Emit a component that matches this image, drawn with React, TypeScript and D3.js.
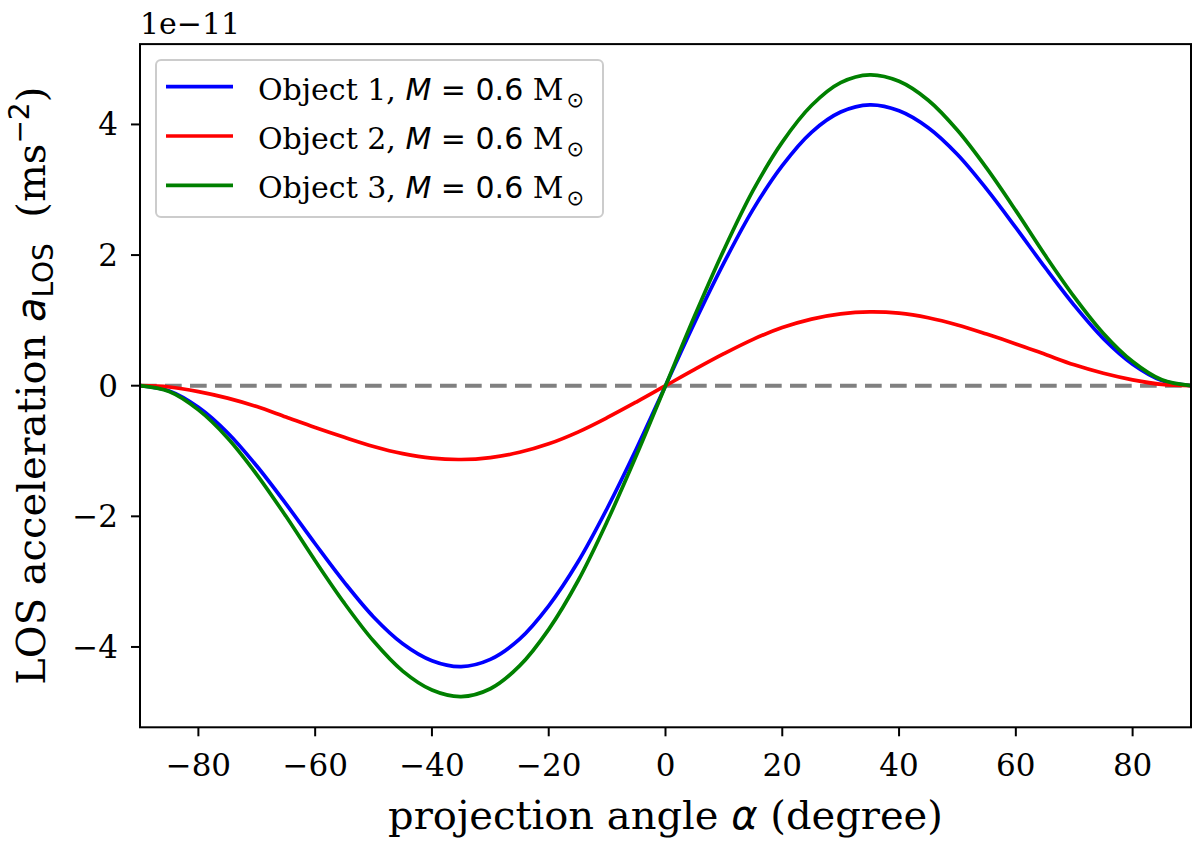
import React from "react";
import * as d3 from "d3";

const angles = [-90, -85, -80, -75, -70, -65, -60, -55, -50, -45, -40, -35, -30, -25, -20, -15, -10, -5, 0,
  5, 10, 15, 20, 25, 30, 35, 40, 45, 50, 55, 60, 65, 70, 75, 80, 85, 90];

const object1 = [0, -0.08, -0.33, -0.72, -1.23, -1.81, -2.42, -3.01, -3.54, -3.95, -4.21, -4.30, -4.19, -3.88, -3.37, -2.70, -1.88, -0.97, 0,
  0.97, 1.88, 2.70, 3.37, 3.88, 4.19, 4.30, 4.21, 3.95, 3.54, 3.01, 2.42, 1.81, 1.23, 0.72, 0.33, 0.08, 0];
const object2 = [0, -0.02, -0.09, -0.19, -0.32, -0.48, -0.64, -0.79, -0.93, -1.04, -1.11, -1.13, -1.10, -1.02, -0.89, -0.71, -0.49, -0.25, 0,
  0.25, 0.49, 0.71, 0.89, 1.02, 1.10, 1.13, 1.11, 1.04, 0.93, 0.79, 0.64, 0.48, 0.32, 0.19, 0.09, 0.02, 0];
const object3 = [0, -0.09, -0.37, -0.80, -1.36, -2.00, -2.68, -3.33, -3.91, -4.37, -4.66, -4.76, -4.64, -4.29, -3.73, -2.99, -2.08, -1.07, 0,
  1.07, 2.08, 2.99, 3.73, 4.29, 4.64, 4.76, 4.66, 4.37, 3.91, 3.33, 2.68, 2.00, 1.36, 0.80, 0.37, 0.09, 0];

const seriesNames = ["Object 1", "Object 2", "Object 3"];
const seriesColors = ["#0000ff", "#ff0000", "#008000"];
const seriesValues = [object1, object2, object3];

const xTicks = [-80, -60, -40, -20, 0, 20, 40, 60, 80];
const yTicks = [-4, -2, 0, 2, 4];
const xDomain = [-90, 90];
const yDomain = [-5.23, 5.23];

const SERIF = "'DejaVu Serif', serif";
const SANS = "'DejaVu Sans', sans-serif";

const fmt = (v: number) => (v < 0 ? "\u2212" + Math.abs(v) : String(v));

export default function App() {
  const W = 1200, H = 847;
  const L = 140, R = 1191, T = 44.1, B = 727.3;
  const x = d3.scaleLinear().domain(xDomain).range([L, R]);
  const y = d3.scaleLinear().domain(yDomain).range([B, T]);
  const line = d3
    .line<number>()
    .x((_, i) => x(angles[i]))
    .y((d) => y(d))
    .curve(d3.curveCatmullRom.alpha(0.5));

  const legendRowsY = [86.7, 136, 185.3];

  return (
    <div style={{ position: "absolute", left: 0, top: 0 }}>
      <svg width={W} height={H} viewBox={`0 0 ${W} ${H}`} style={{ display: "block", background: "#fff" }}>
        <defs>
          <clipPath id="plotclip">
            <rect x={L} y={T} width={R - L} height={B - T} />
          </clipPath>
        </defs>
        <rect x={0} y={0} width={W} height={H} fill="#fff" />

        <g clipPath="url(#plotclip)">
          <line x1={x(-90)} x2={x(90)} y1={y(0)} y2={y(0)} stroke="#808080" strokeWidth={4} strokeDasharray="16.7 8.3" />
          {seriesValues.map((vals, i) => (
            <path key={i} d={line(vals) || ""} fill="none" stroke={seriesColors[i]} strokeWidth={3.7} strokeLinejoin="round" strokeLinecap="butt" />
          ))}
        </g>

        {/* frame */}
        <rect x={L} y={T} width={R - L} height={B - T} fill="none" stroke="#000" strokeWidth={2} />

        {/* x ticks */}
        {xTicks.map((t) => (
          <g key={"x" + t}>
            <line x1={x(t)} x2={x(t)} y1={B} y2={B + 9} stroke="#000" strokeWidth={2} />
            <text x={x(t)} y={776} textAnchor="middle" fontFamily={SERIF} fontSize={31} fill="#000">
              {fmt(t)}
            </text>
          </g>
        ))}

        {/* y ticks */}
        {yTicks.map((t) => (
          <g key={"y" + t}>
            <line x1={L - 9} x2={L} y1={y(t)} y2={y(t)} stroke="#000" strokeWidth={2} />
            <text x={118} y={y(t) + 11} textAnchor="end" fontFamily={SERIF} fontSize={31} fill="#000">
              {fmt(t)}
            </text>
          </g>
        ))}

        {/* offset text */}
        <text x={140} y={34} fontFamily={SERIF} fontSize={30} fill="#000">
          1e{"\u2212"}11
        </text>

        {/* x label */}
        <text x={(L + R) / 2} y={829} textAnchor="middle" fontFamily={SERIF} fontSize={40} fill="#000">
          projection angle <tspan fontFamily={SANS} fontStyle="italic">α</tspan> (degree)
        </text>

        {/* y label */}
        <text transform={`translate(45, ${(T + B) / 2}) rotate(-90)`} textAnchor="middle" fontFamily={SERIF} fontSize={40} fill="#000">
          LOS acceleration <tspan fontFamily={SANS} fontStyle="italic">a</tspan>
          <tspan fontFamily={SANS} fontSize={28} dy={8}>LOS</tspan>
          <tspan dy={-8}>{"\u00a0\u00a0"}(ms</tspan>
          <tspan fontFamily={SANS} fontSize={28} dy={-16}>{"\u2212"}2</tspan>
          <tspan dy={16}>)</tspan>
        </text>

        {/* legend */}
        <rect x={156} y={60} width={447} height={157} rx={5} ry={5} fill="#fff" fillOpacity={0.8} stroke="#cccccc" strokeWidth={2} />
        {seriesNames.map((name, i) => (
          <g key={name}>
            <line x1={166} x2={233} y1={legendRowsY[i]} y2={legendRowsY[i]} stroke={seriesColors[i]} strokeWidth={3.7} />
            <text x={258} y={legendRowsY[i] + 13} fontFamily={SERIF} fontSize={30} fill="#000">
              {name.replace("Object ", "Object ")},{" "}
              <tspan fontFamily={SANS} fontStyle="italic">M</tspan>
              <tspan fontFamily={SANS}>{" = 0.6 "}</tspan>
              <tspan>M</tspan>
              <tspan fontFamily={SANS} fontSize={21} dx={3} dy={7}>⊙</tspan>
            </text>
          </g>
        ))}
      </svg>
    </div>
  );
}
